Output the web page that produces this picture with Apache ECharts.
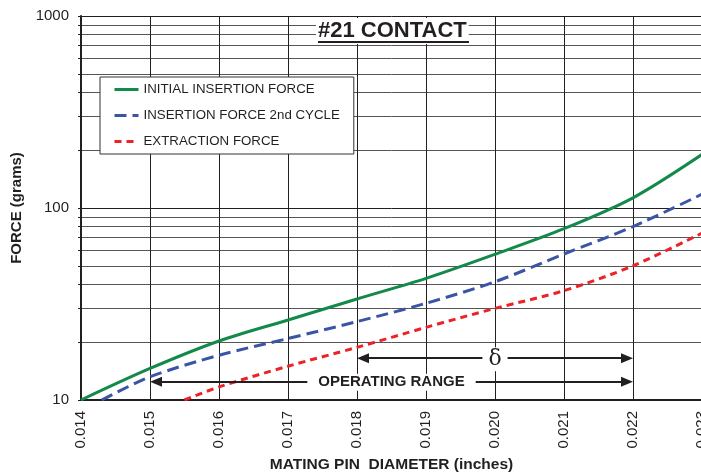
<!DOCTYPE html>
<html>
<head>
<meta charset="utf-8">
<script src="https://cdn.jsdelivr.net/npm/echarts@6/dist/echarts.min.js"></script>
<style>html,body{margin:0;padding:0;background:#fff;overflow:hidden}#c{width:701px;height:472px}</style>
</head>
<body>
<div id="c"></div>
<script>
// ---- data ----
const seriesNames = ['INITIAL INSERTION FORCE', 'INSERTION FORCE 2nd CYCLE', 'EXTRACTION FORCE'];
const initialX = [0.014, 0.015, 0.016, 0.017, 0.018, 0.019, 0.020, 0.021, 0.022, 0.023];
const initialY = [10, 14.6, 20.3, 26.1, 33.6, 43.0, 57.4, 78, 113, 190];
const secondX = [0.0143, 0.015, 0.016, 0.017, 0.018, 0.019, 0.020, 0.021, 0.022, 0.023];
const secondY = [10, 13.2, 17.1, 20.9, 25.6, 31.9, 41.3, 57.6, 80, 118];
const extractX = [0.0155, 0.016, 0.017, 0.018, 0.019, 0.020, 0.021, 0.022, 0.023];
const extractY = [10, 11.7, 15.0, 18.8, 23.9, 30.0, 37.1, 50, 74];
const xTicks = [0.014, 0.015, 0.016, 0.017, 0.018, 0.019, 0.020, 0.021, 0.022, 0.023];
const yTicks = [10, 100, 1000];
// annotation arrows: [xStart, xEnd, yValue, label]
const deltaArrow = [0.018, 0.022, 16.5, 'δ'];
const rangeArrow = [0.015, 0.022, 12.45, 'OPERATING RANGE'];

const zip = (xs, ys) => xs.map((x, i) => [x, ys[i]]);
const FONT = 'Liberation Sans, Arial, Helvetica, sans-serif';
const inset = 0.000087;

const chart = echarts.init(document.getElementById('c'), null, {renderer: 'canvas'});
chart.setOption({
  animation: false,
  backgroundColor: '#fff',
  textStyle: {fontFamily: FONT},
  title: {
    text: '#21 CONTACT',
    left: 316, top: 18,
    padding: [2, 2, 2, 2],
    backgroundColor: '#fff',
    textStyle: {fontSize: 22, fontWeight: 'bold', color: '#231f20', fontFamily: FONT, lineHeight: 22}
  },
  graphic: [{
    type: 'line', z: 100,
    shape: {x1: 318, y1: 42, x2: 469, y2: 42},
    style: {stroke: '#231f20', lineWidth: 2}
  }],
  legend: {
    orient: 'vertical',
    left: 100, top: 77,
    data: seriesNames,
    backgroundColor: '#fff',
    borderColor: '#333',
    borderWidth: 1,
    borderRadius: 0,
    padding: [6, 14, 6, 13],
    itemWidth: 24, itemHeight: 14, itemGap: 13,
    itemStyle: {color: 'rgba(0,0,0,0)', borderWidth: 0, opacity: 0},
    lineStyle: {width: 3},
    textStyle: {fontSize: 13.3, color: '#231f20', fontFamily: FONT}
  },
  grid: {left: 81, top: 16, width: 621, height: 384, containLabel: false, outerBoundsMode: 'none'},
  xAxis: {
    type: 'value',
    min: xTicks[0], max: xTicks[xTicks.length - 1], interval: 0.001,
    name: 'MATING PIN  DIAMETER (inches)',
    nameLocation: 'middle', nameGap: 55,
    nameTextStyle: {fontSize: 15.5, fontWeight: 'bold', color: '#231f20', fontFamily: FONT},
    axisLine: {show: true, onZero: false, lineStyle: {color: '#231f20', width: 2}},
    axisTick: {show: false},
    axisLabel: {rotate: 90, margin: 11, fontSize: 15, color: '#231f20', fontFamily: FONT,
      formatter: v => v.toFixed(3)},
    splitLine: {show: true, lineStyle: {color: '#231f20', width: 1}}
  },
  yAxis: {
    type: 'log', logBase: 10,
    min: yTicks[0], max: yTicks[yTicks.length - 1],
    name: 'FORCE (grams)',
    nameLocation: 'middle', nameGap: 55,
    nameTextStyle: {fontSize: 15, fontWeight: 'bold', color: '#231f20', fontFamily: FONT},
    axisLine: {show: true, lineStyle: {color: '#231f20', width: 2}},
    axisTick: {show: true, length: 3, lineStyle: {color: '#231f20'}},
    minorTick: {show: true, splitNumber: 9, length: 3, lineStyle: {color: '#231f20'}},
    axisLabel: {margin: 12, fontSize: 15, color: '#231f20', fontFamily: FONT,
      formatter: v => String(Math.round(v))},
    splitLine: {show: true, lineStyle: {color: '#231f20', width: 1}},
    minorSplitLine: {show: true, lineStyle: {color: '#555', width: 1}}
  },
  series: [
    {
      name: seriesNames[0], type: 'line', data: zip(initialX, initialY),
      smooth: 0.3, showSymbol: false, symbol: 'none', z: 5,
      itemStyle: {color: '#13894a'},
      lineStyle: {color: '#13894a', width: 3},
      markLine: {
        silent: true,
        symbol: ['triangle', 'triangle'],
        symbolSize: [10, 12],
        lineStyle: {color: '#231f20', width: 2, type: 'solid'},
        data: [
          [{coord: [deltaArrow[0] + inset, deltaArrow[2]],
            label: {show: true, position: 'middle', formatter: deltaArrow[3], distance: -13,
              fontFamily: 'DejaVu Serif, Liberation Serif, serif', fontSize: 22, color: '#231f20',
              backgroundColor: '#fff', padding: [1, 6]}},
           {coord: [deltaArrow[1] - inset, deltaArrow[2]]}],
          [{coord: [rangeArrow[0] + inset, rangeArrow[2]],
            label: {show: true, position: 'middle', formatter: rangeArrow[3], distance: -9,
              fontFamily: FONT, fontSize: 15, fontWeight: 'bold', color: '#231f20',
              backgroundColor: '#fff', padding: [1, 11]}},
           {coord: [rangeArrow[1] - inset, rangeArrow[2]]}]
        ]
      }
    },
    {
      name: seriesNames[1], type: 'line', data: zip(secondX, secondY),
      smooth: 0.3, showSymbol: false, symbol: 'none', z: 4,
      itemStyle: {color: '#3a55a5'},
      lineStyle: {color: '#3a55a5', width: 3, type: [12, 6]}
    },
    {
      name: seriesNames[2], type: 'line', data: zip(extractX, extractY),
      smooth: 0.3, showSymbol: false, symbol: 'none', z: 3,
      itemStyle: {color: '#ec2227'},
      lineStyle: {color: '#ec2227', width: 3, type: [7, 5]}
    }
  ]
});
</script>
</body>
</html>
